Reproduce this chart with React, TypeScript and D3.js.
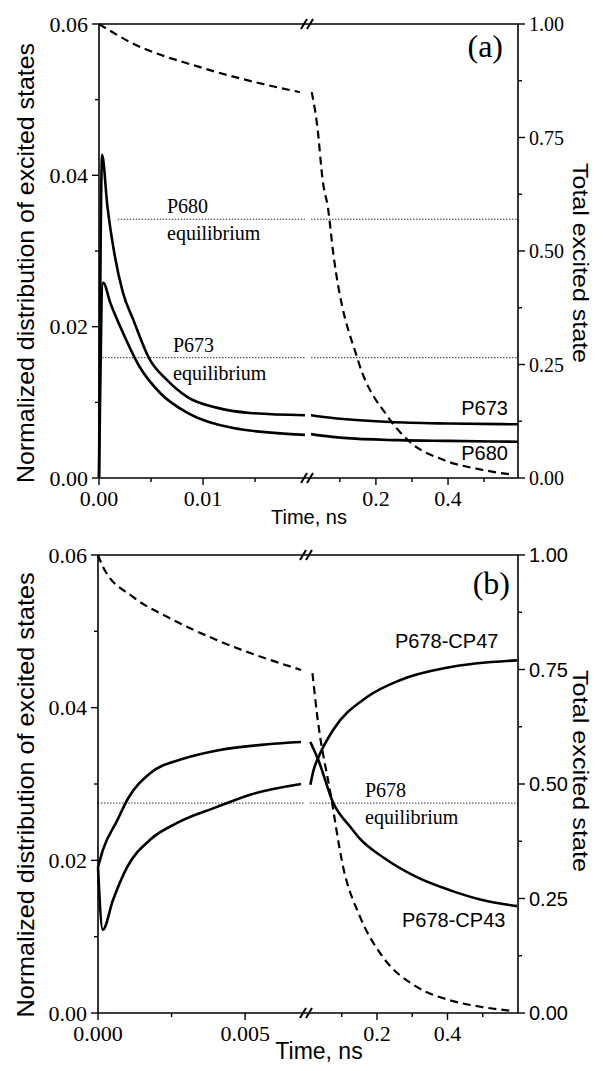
import React from "react";
import * as d3 from "d3";

type Pt = [number, number];

// ---------------- Panel (a) data ----------------
const aLeftDomain = [0, 0.0198];
const aRightDomain = [0.02, 0.594];

const aP673Left: Pt[] = [
  [0, 0], [0.0003, 0.0427], [0.0008, 0.036], [0.0015, 0.0295], [0.0023, 0.0245],
  [0.0033, 0.0209], [0.0049, 0.0156], [0.0065, 0.013], [0.0085, 0.0107],
  [0.0113, 0.0093], [0.0145, 0.0086], [0.0198, 0.0083],
];
const aP673Right: Pt[] = [
  [0.02, 0.0083], [0.05, 0.0081], [0.109, 0.0078], [0.239, 0.0074], [0.4, 0.0072], [0.594, 0.0071],
];
const aP680Left: Pt[] = [
  [0, 0], [0.0004, 0.0258], [0.0011, 0.0231], [0.0023, 0.0192], [0.0039, 0.0147],
  [0.0059, 0.0112], [0.0085, 0.0086], [0.0129, 0.0066], [0.0198, 0.0057],
];
const aP680Right: Pt[] = [
  [0.02, 0.0058], [0.05, 0.0056], [0.109, 0.0053], [0.26, 0.005], [0.4, 0.0049], [0.594, 0.0048],
];
const aTotalLeft: Pt[] = [
  [0, 1], [0.003, 0.96], [0.0097, 0.905], [0.0161, 0.866], [0.0193, 0.85],
];
const aTotalRight: Pt[] = [
  [0.022, 0.85], [0.037, 0.778], [0.053, 0.652], [0.067, 0.595], [0.081, 0.5],
  [0.15, 0.26], [0.234, 0.134], [0.295, 0.079], [0.387, 0.04], [0.495, 0.018], [0.581, 0.007],
];
const aP680Equilibrium = 0.0342;
const aP680EqStart = 0.0018;
const aP673Equilibrium = 0.0159;
const aP673EqStart = 0;

const aLeftTicks = [0, 0.02, 0.04, 0.06];
const aLeftTickLabels = ["0.00", "0.02", "0.04", "0.06"];
const aLeftMinor = [0.01, 0.03, 0.05];
const aBottomLeftTicks = [0, 0.01];
const aBottomLeftLabels = ["0.00", "0.01"];
const aBottomLeftMinor = [0.005, 0.015];

// ---------------- Panel (b) data ----------------
const bLeftDomain = [0, 0.007];
const bRightDomain = [0.01, 0.6];

const bCP43Left: Pt[] = [
  [0, 0.0191], [0.00017, 0.0214], [0.00065, 0.0252], [0.00102, 0.0281], [0.00177, 0.0314],
  [0.00289, 0.0333], [0.00405, 0.0344], [0.00575, 0.0352], [0.0069, 0.0355],
];
const bCP43Right: Pt[] = [
  [0.011, 0.0355], [0.034, 0.0331], [0.076, 0.0275], [0.124, 0.0244], [0.152, 0.0228],
  [0.217, 0.0204], [0.313, 0.0178], [0.406, 0.0161], [0.499, 0.0148], [0.597, 0.014],
];
const bCP47Left: Pt[] = [
  [0, 0.0191], [0.00016, 0.0109], [0.00051, 0.0148], [0.00099, 0.0191], [0.00177, 0.0227],
  [0.00269, 0.0249], [0.00405, 0.027], [0.00517, 0.0286], [0.0069, 0.03],
];
const bCP47Right: Pt[] = [
  [0.011, 0.0299], [0.02, 0.0318], [0.034, 0.0335], [0.076, 0.0371], [0.172, 0.0414],
  [0.265, 0.0436], [0.406, 0.0453], [0.597, 0.0462],
];
const bTotalLeft: Pt[] = [
  [0, 1], [0.00017, 0.974], [0.0012, 0.908], [0.00235, 0.865], [0.00405, 0.814], [0.0069, 0.749],
];
const bTotalRight: Pt[] = [
  [0.017, 0.742], [0.031, 0.646], [0.068, 0.48], [0.104, 0.319], [0.152, 0.21],
  [0.217, 0.122], [0.313, 0.057], [0.406, 0.028], [0.499, 0.013], [0.589, 0.004],
];
const bP678Equilibrium = 0.0275;
const bP678EqStart = 0;

const bLeftTicks = [0, 0.02, 0.04, 0.06];
const bLeftTickLabels = ["0.00", "0.02", "0.04", "0.06"];
const bLeftMinor = [0.01, 0.03, 0.05];
const bBottomLeftTicks = [0, 0.005];
const bBottomLeftLabels = ["0.000", "0.005"];
const bBottomLeftMinor = [0.0025];

// ---------------- shared ticks ----------------
const rightTicks = [0, 0.25, 0.5, 0.75, 1];
const rightTickLabels = ["0.00", "0.25", "0.50", "0.75", "1.00"];
const rightMinor = [0.125, 0.375, 0.625, 0.875];
const bottomRightTicks = [0.2, 0.4];
const bottomRightLabels = ["0.2", "0.4"];
const bottomRightMinor = [0.1, 0.3, 0.5];

const SERIF = "'Liberation Serif', 'Times New Roman', serif";
const SANS = "'Liberation Sans', Arial, sans-serif";

type Series = { left: Pt[]; right: Pt[]; axis: "L" | "R"; dashed?: boolean };
type Eq = { value: number; start: number };
type Label = { text: string; x: number; y: number; font: string; size: number; anchor?: string };

type PanelCfg = {
  g: { x0: number; xbl: number; xbr: number; x1: number; yt: number; yb: number; slashL: number; slashR: number };
  leftDomain: number[];
  rightDomain: number[];
  series: Series[];
  eqs: Eq[];
  leftTicks: number[];
  leftTickLabels: string[];
  leftMinor: number[];
  bottomLeftTicks: number[];
  bottomLeftLabels: string[];
  bottomLeftMinor: number[];
  rightFont: string;
  rightSize: number;
  labels: Label[];
  yTitle: { x: number; cy: number; len: number };
  rTitle: { x: number; cy: number; len: number };
  xTitle: { cx: number; y: number; size: number };
};

function Panel({ cfg }: { cfg: PanelCfg }) {
  const { g } = cfg;
  const xl = d3.scaleLinear().domain(cfg.leftDomain).range([g.x0, g.xbl]);
  const xr = d3.scaleLinear().domain(cfg.rightDomain).range([g.xbr, g.x1]);
  const y = d3.scaleLinear().domain([0, 0.06]).range([g.yb, g.yt]);
  const yr = d3.scaleLinear().domain([0, 1]).range([g.yb, g.yt]);

  const mk = (xs: any, ys: any) =>
    d3.line<Pt>().x((d) => xs(d[0])).y((d) => ys(d[1])).curve(d3.curveMonotoneX);

  const slash = (x: number, yy: number, k: string) => (
    <line key={k} x1={x - 3} y1={yy + 5} x2={x + 3} y2={yy - 5} stroke="#000" strokeWidth={2} />
  );

  return (
    <g>
      {/* equilibrium dotted lines */}
      {cfg.eqs.map((e, i) => (
        <g key={"eq" + i} stroke="#333" strokeWidth={1} strokeDasharray="1.5,1.5">
          <line x1={xl(e.start)} x2={g.xbl} y1={y(e.value)} y2={y(e.value)} />
          <line x1={g.xbr} x2={g.x1} y1={y(e.value)} y2={y(e.value)} />
        </g>
      ))}
      {/* curves */}
      {cfg.series.map((s, i) => {
        const ys = s.axis === "L" ? y : yr;
        const common = {
          fill: "none",
          stroke: "#000",
          strokeWidth: s.dashed ? 2.2 : 2.6,
          strokeDasharray: s.dashed ? "8,5" : undefined,
        };
        return (
          <g key={"s" + i}>
            <path d={mk(xl, ys)(s.left) || ""} {...common} />
            <path d={mk(xr, ys)(s.right) || ""} {...common} />
          </g>
        );
      })}
      {/* frame */}
      <g stroke="#000" strokeWidth={1.6} fill="none">
        <line x1={g.x0} x2={g.x1} y1={g.yt} y2={g.yt} />
        <line x1={g.x0} x2={g.x1} y1={g.yb} y2={g.yb} />
        <line x1={g.x0} x2={g.x0} y1={g.yt} y2={g.yb} />
        <line x1={g.x1} x2={g.x1} y1={g.yt} y2={g.yb} />
      </g>
      {slash(g.slashL, g.yt, "t1")}
      {slash(g.slashR, g.yt, "t2")}
      {slash(g.slashL, g.yb, "b1")}
      {slash(g.slashR, g.yb, "b2")}
      {/* left axis ticks */}
      <g stroke="#000" strokeWidth={1.4}>
        {cfg.leftTicks.map((v, i) => (
          <line key={"lt" + i} x1={g.x0 - 7} x2={g.x0} y1={y(v)} y2={y(v)} />
        ))}
        {cfg.leftMinor.map((v, i) => (
          <line key={"lm" + i} x1={g.x0 - 4} x2={g.x0} y1={y(v)} y2={y(v)} />
        ))}
        {rightTicks.map((v, i) => (
          <line key={"rt" + i} x1={g.x1} x2={g.x1 + 7} y1={yr(v)} y2={yr(v)} />
        ))}
        {rightMinor.map((v, i) => (
          <line key={"rm" + i} x1={g.x1} x2={g.x1 + 4} y1={yr(v)} y2={yr(v)} />
        ))}
        {cfg.bottomLeftTicks.map((v, i) => (
          <line key={"bt" + i} x1={xl(v)} x2={xl(v)} y1={g.yb} y2={g.yb + 7} />
        ))}
        {cfg.bottomLeftMinor.map((v, i) => (
          <line key={"bm" + i} x1={xl(v)} x2={xl(v)} y1={g.yb} y2={g.yb + 4} />
        ))}
        {bottomRightTicks.map((v, i) => (
          <line key={"brt" + i} x1={xr(v)} x2={xr(v)} y1={g.yb} y2={g.yb + 7} />
        ))}
        {bottomRightMinor.map((v, i) => (
          <line key={"brm" + i} x1={xr(v)} x2={xr(v)} y1={g.yb} y2={g.yb + 4} />
        ))}
      </g>
      {/* tick labels */}
      <g fontFamily={SERIF} fontSize={22} fill="#000">
        {cfg.leftTicks.map((v, i) => (
          <text key={"ll" + i} x={g.x0 - 11} y={y(v) + 7.5} textAnchor="end">
            {cfg.leftTickLabels[i]}
          </text>
        ))}
        {cfg.bottomLeftTicks.map((v, i) => (
          <text key={"bl" + i} x={xl(v)} y={g.yb + 28} textAnchor="middle">
            {cfg.bottomLeftLabels[i]}
          </text>
        ))}
        {bottomRightTicks.map((v, i) => (
          <text key={"brl" + i} x={xr(v)} y={g.yb + 28} textAnchor="middle">
            {bottomRightLabels[i]}
          </text>
        ))}
      </g>
      <g fontFamily={cfg.rightFont} fontSize={cfg.rightSize} fill="#000">
        {rightTicks.map((v, i) => (
          <text key={"rl" + i} x={g.x1 + 11} y={yr(v) + 7}>
            {rightTickLabels[i]}
          </text>
        ))}
      </g>
      {/* titles */}
      <text
        transform={`translate(${cfg.yTitle.x},${cfg.yTitle.cy}) rotate(-90)`}
        textAnchor="middle"
        fontFamily={SANS}
        fontSize={24}
        textLength={cfg.yTitle.len}
        lengthAdjust="spacingAndGlyphs"
      >
        Normalized distribution of excited states
      </text>
      <text
        transform={`translate(${cfg.rTitle.x},${cfg.rTitle.cy}) rotate(90)`}
        textAnchor="middle"
        fontFamily={SANS}
        fontSize={22}
        textLength={cfg.rTitle.len}
        lengthAdjust="spacingAndGlyphs"
      >
        Total excited state
      </text>
      <text x={cfg.xTitle.cx} y={cfg.xTitle.y} textAnchor="middle" fontFamily={SANS} fontSize={cfg.xTitle.size}>
        Time, ns
      </text>
      {cfg.labels.map((l, i) => (
        <text
          key={"lab" + i}
          x={l.x}
          y={l.y}
          fontFamily={l.font}
          fontSize={l.size}
          textAnchor={(l.anchor as any) || "start"}
        >
          {l.text}
        </text>
      ))}
    </g>
  );
}

const panelA: PanelCfg = {
  g: { x0: 99, xbl: 305, xbr: 311, x1: 518, yt: 24, yb: 478, slashL: 304, slashR: 310 },
  leftDomain: aLeftDomain,
  rightDomain: aRightDomain,
  series: [
    { left: aTotalLeft, right: aTotalRight, axis: "R", dashed: true },
    { left: aP673Left, right: aP673Right, axis: "L" },
    { left: aP680Left, right: aP680Right, axis: "L" },
  ],
  eqs: [
    { value: aP680Equilibrium, start: aP680EqStart },
    { value: aP673Equilibrium, start: aP673EqStart },
  ],
  leftTicks: aLeftTicks,
  leftTickLabels: aLeftTickLabels,
  leftMinor: aLeftMinor,
  bottomLeftTicks: aBottomLeftTicks,
  bottomLeftLabels: aBottomLeftLabels,
  bottomLeftMinor: aBottomLeftMinor,
  rightFont: SERIF,
  rightSize: 20,
  labels: [
    { text: "(a)", x: 503, y: 57, font: SERIF, size: 32, anchor: "end" },
    { text: "P680", x: 167, y: 213, font: SERIF, size: 20 },
    { text: "equilibrium", x: 167, y: 240, font: SERIF, size: 20 },
    { text: "P673", x: 173, y: 352, font: SERIF, size: 20 },
    { text: "equilibrium", x: 173, y: 380, font: SERIF, size: 20 },
    { text: "P673", x: 508, y: 415, font: SANS, size: 20, anchor: "end" },
    { text: "P680", x: 508, y: 460, font: SANS, size: 20, anchor: "end" },
  ],
  yTitle: { x: 34, cy: 263, len: 440 },
  rTitle: { x: 573, cy: 263, len: 200 },
  xTitle: { cx: 309, y: 524, size: 20 },
};

const panelB: PanelCfg = {
  g: { x0: 98, xbl: 304, xbr: 310, x1: 518, yt: 555, yb: 1013, slashL: 303, slashR: 309 },
  leftDomain: bLeftDomain,
  rightDomain: bRightDomain,
  series: [
    { left: bTotalLeft, right: bTotalRight, axis: "R", dashed: true },
    { left: bCP43Left, right: bCP43Right, axis: "L" },
    { left: bCP47Left, right: bCP47Right, axis: "L" },
  ],
  eqs: [{ value: bP678Equilibrium, start: bP678EqStart }],
  leftTicks: bLeftTicks,
  leftTickLabels: bLeftTickLabels,
  leftMinor: bLeftMinor,
  bottomLeftTicks: bBottomLeftTicks,
  bottomLeftLabels: bBottomLeftLabels,
  bottomLeftMinor: bBottomLeftMinor,
  rightFont: SANS,
  rightSize: 20,
  labels: [
    { text: "(b)", x: 510, y: 594, font: SERIF, size: 32, anchor: "end" },
    { text: "P678-CP47", x: 395, y: 648, font: SANS, size: 20 },
    { text: "P678", x: 365, y: 797, font: SERIF, size: 20 },
    { text: "equilibrium", x: 365, y: 824, font: SERIF, size: 20 },
    { text: "P678-CP43", x: 402, y: 927, font: SANS, size: 20 },
  ],
  yTitle: { x: 34, cy: 795, len: 445 },
  rTitle: { x: 573, cy: 771, len: 202 },
  xTitle: { cx: 319, y: 1059, size: 23 },
};

export default function App() {
  return (
    <svg
      width={603}
      height={1071}
      style={{ position: "absolute", left: 0, top: 0, background: "#fff" }}
    >
      <rect width={603} height={1071} fill="#fff" />
      <Panel cfg={panelA} />
      <Panel cfg={panelB} />
    </svg>
  );
}
